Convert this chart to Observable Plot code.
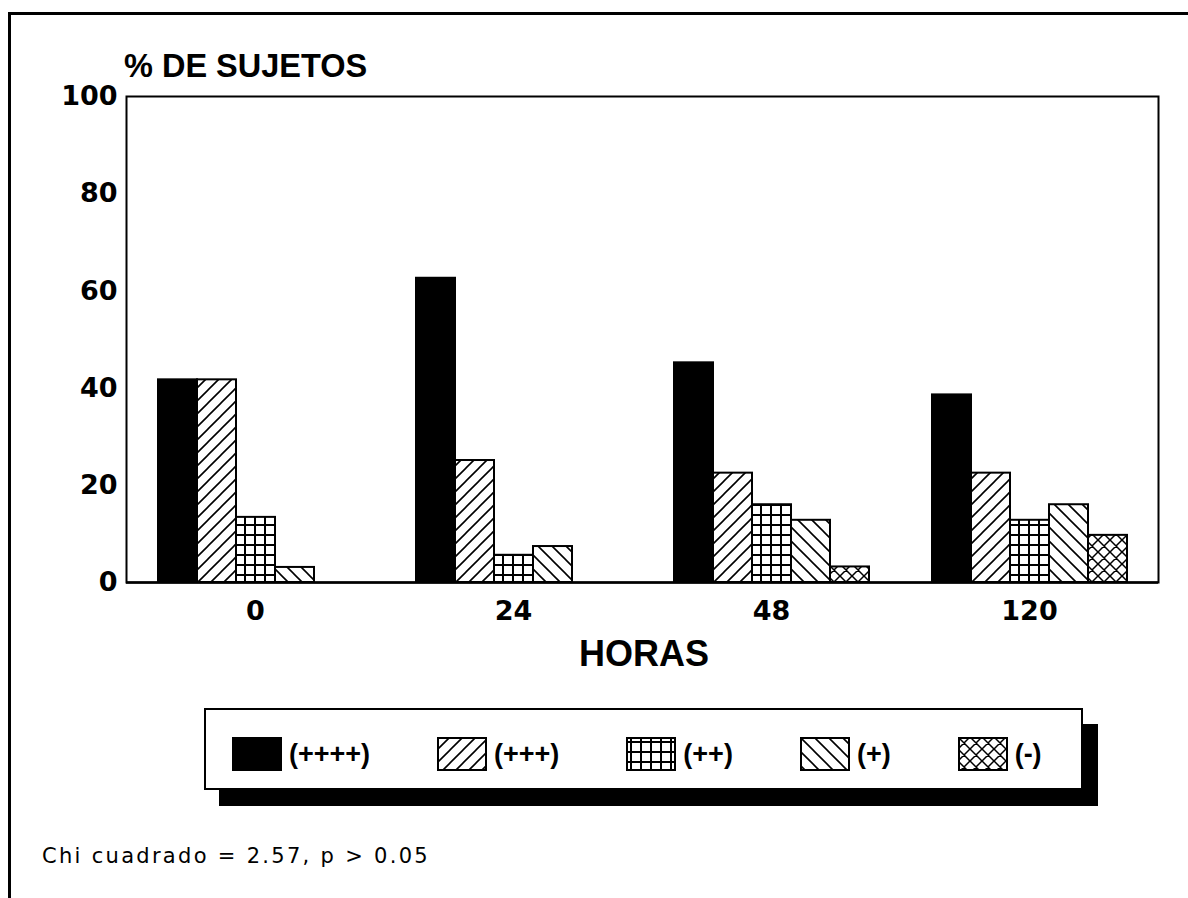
<!DOCTYPE html>
<html>
<head>
<meta charset="utf-8">
<script src="https://cdn.jsdelivr.net/npm/d3@7"></script>
<script src="https://cdn.jsdelivr.net/npm/@observablehq/plot@0.6"></script>
<style>
  body { margin: 0; background: #fff; }
  #root { position: relative; width: 1188px; height: 898px; overflow: hidden; background: #fff; }
  #border { position: absolute; left: 8px; top: 12px; right: -10px; bottom: -10px;
            border-top: 3px solid #000; border-left: 3px solid #000; }
  #chart { position: absolute; left: 0; top: 0; }
  #title { position: absolute; left: 124px; top: 50px; font: bold 32.5px "Liberation Sans", Arial, sans-serif; line-height: 1; color: #000; }
  #xlabel { position: absolute; left: 126px; width: 1036px; top: 636px; text-align: center;
            font: bold 36px "Liberation Sans", Arial, sans-serif; line-height: 1; color: #000; }
  #legend { position: absolute; left: 204px; top: 708px; width: 879px; height: 82px; box-sizing: border-box;
            border: 2px solid #000; background: #fff; box-shadow: 15px 16px 0 0 #000;
            display: flex; align-items: center; padding-left: 26px; padding-top: 10px; }
  .item { display: flex; align-items: center; margin-right: 67px; }
  .item svg { display: block; }
  .item span { font: bold 27px "Liberation Sans", Arial, sans-serif; margin-left: 7px; line-height: 1; }
  #note { position: absolute; left: 42px; top: 846px; font: 21px "DejaVu Sans", sans-serif; letter-spacing: 2.3px; line-height: 1; color: #000; }
</style>
</head>
<body>
<div id="root">
  <svg width="0" height="0" style="position:absolute">
    <defs>
      <pattern id="p-diag" patternUnits="userSpaceOnUse" width="13" height="13">
        <path d="M-2,2 L2,-2 M0,13 L13,0 M11,15 L15,11" stroke="#000" stroke-width="1.6"/>
      </pattern>
      <pattern id="p-grid" patternUnits="userSpaceOnUse" width="10" height="10">
        <path d="M5,0 V10 M0,5 H10" stroke="#000" stroke-width="2"/>
      </pattern>
      <pattern id="p-back" patternUnits="userSpaceOnUse" width="14" height="14">
        <path d="M-2,12 L2,16 M0,0 L14,14 M12,-2 L16,2" stroke="#000" stroke-width="1.6"/>
      </pattern>
      <pattern id="p-cross" patternUnits="userSpaceOnUse" width="12" height="12">
        <path d="M-2,2 L2,-2 M0,12 L12,0 M10,14 L14,10 M-2,10 L2,14 M0,0 L12,12 M10,-2 L14,2" stroke="#000" stroke-width="1.5"/>
      </pattern>
    </defs>
  </svg>
  <div id="border"></div>
  <div id="chart"></div>
  <div id="title">% DE SUJETOS</div>
  <div id="xlabel">HORAS</div>
  <div id="legend"></div>
  <div id="note">Chi cuadrado = 2.57, p &gt; 0.05</div>
</div>
<script>
// ---- Data ----
const horas = ["0", "24", "48", "120"];
const categorias = ["(++++)", "(+++)", "(++)", "(+)", "(-)"];
const serieCuatroMas = [41.7, 62.6, 45.2, 38.6];  // (++++)
const serieTresMas   = [41.7, 25.1, 22.5, 22.5];  // (+++)
const serieDosMas    = [13.4, 5.6, 16.0, 12.8];   // (++)
const serieUnMas     = [3.1, 7.4, 12.8, 16.0];    // (+)
const serieNegativo  = [0, 0, 3.2, 9.7];          // (-)
const yTicks = [0, 20, 40, 60, 80, 100];
const rellenos = ["#000", "url(#p-diag)", "url(#p-grid)", "url(#p-back)", "url(#p-cross)"];

const series = [serieCuatroMas, serieTresMas, serieDosMas, serieUnMas, serieNegativo];
const data = [];
horas.forEach((h, i) => categorias.forEach((c, j) => data.push({hora: h, cat: c, valor: series[j][i]})));

const chart = Plot.plot({
  width: 1188,
  height: 700,
  marginTop: 96,
  marginBottom: 118,
  marginLeft: 126,
  marginRight: 30,
  style: {background: "transparent", fontFamily: "'DejaVu Sans', sans-serif", fontWeight: "bold", color: "#000", overflow: "visible"},
  fx: {domain: horas, padding: 0},
  x: {domain: categorias, paddingInner: 0, paddingOuter: 0.8, axis: null},
  y: {domain: [0, 100], axis: null},
  color: {domain: categorias, range: rellenos},
  marks: [
    Plot.barY(data, {fx: "hora", x: "cat", y: "valor", fill: "cat", stroke: "#000", strokeWidth: 2, insetLeft: 0, insetRight: 0}),
    Plot.ruleY([0], {stroke: "#000", strokeWidth: 2.5}),
    Plot.frame({facet: "super", stroke: "#000", strokeWidth: 2}),
    Plot.axisY(yTicks, {anchor: "left", tickSize: 0, tickPadding: 9, fontSize: 27, fontWeight: "bold", label: null}),
    Plot.axisFx({anchor: "bottom", tickSize: 0, tickPadding: 18, fontSize: 27, fontWeight: "bold", label: null})
  ]
});
document.getElementById("chart").appendChild(chart);

// ---- Legend ----
const legend = document.getElementById("legend");
categorias.forEach((c, j) => {
  const item = document.createElement("div");
  item.className = "item";
  item.innerHTML = `<svg width="50" height="34"><rect x="1" y="1" width="48" height="32" fill="${rellenos[j]}" stroke="#000" stroke-width="2"/></svg><span>${c}</span>`;
  legend.appendChild(item);
});
</script>
</body>
</html>
